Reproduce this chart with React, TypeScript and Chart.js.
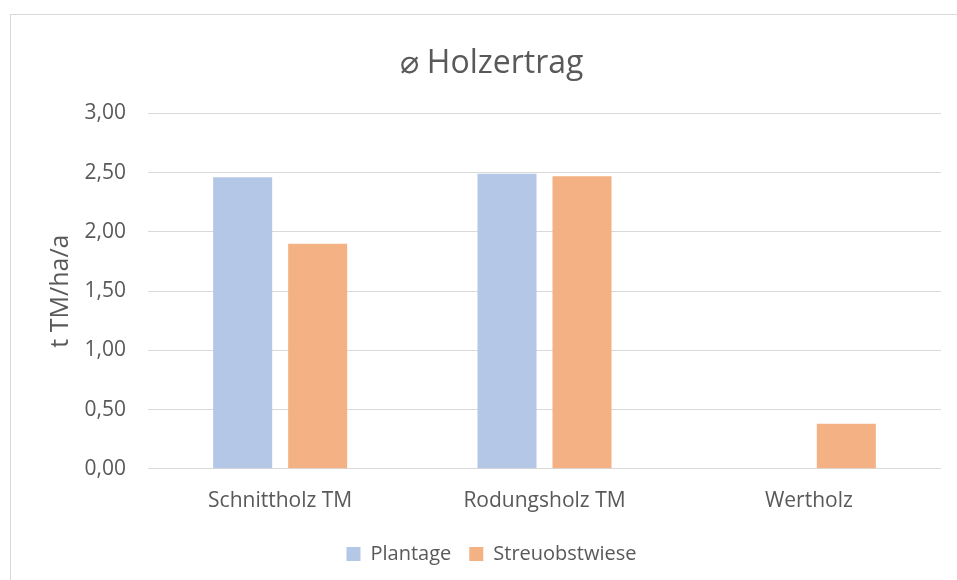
import React, { useEffect, useRef } from "react";
import { Chart, registerables } from "chart.js";

Chart.register(...registerables);

const categories = ["Schnittholz TM", "Rodungsholz TM", "Wertholz"];
const plantage = [2.46, 2.49, 0];
const streuobstwiese = [1.9, 2.47, 0.38];
const seriesNames = ["Plantage", "Streuobstwiese"];
const titleText = "⌀ Holzertrag";
const yTitle = "t TM/ha/a";

export default function App() {
  const ref = useRef<HTMLCanvasElement | null>(null);
  useEffect(() => {
    if (!ref.current) return;
    const font = "'Open Sans', 'Liberation Sans', sans-serif";
    const chart = new Chart(ref.current, {
      type: "bar",
      data: {
        labels: categories,
        datasets: [
          { label: seriesNames[0], data: plantage, backgroundColor: "#B4C7E7" },
          { label: seriesNames[1], data: streuobstwiese, backgroundColor: "#F4B183" },
        ],
      },
      options: {
        animation: false,
        responsive: false,
        maintainAspectRatio: false,
        datasets: { bar: { categoryPercentage: 0.5675, barPercentage: 0.787 } },
        layout: { padding: { left: 42, right: 16, top: 45, bottom: 6 } },
        plugins: {
          title: {
            display: true,
            text: titleText,
            color: "#595959",
            font: { family: font, size: 32, weight: "normal" },
            padding: { top: 0, bottom: 30 },
          },
          legend: {
            position: "bottom",
            labels: {
              color: "#595959",
              font: { family: font, size: 20 },
              boxWidth: 14,
              boxHeight: 14,
              padding: 18,
            },
          },
          tooltip: { enabled: false },
        },
        scales: {
          x: {
            grid: { display: false },
            border: { display: false },
            ticks: { color: "#595959", font: { family: font, size: 21 }, padding: 12 },
          },
          y: {
            min: 0,
            max: 3,
            afterFit: (scale: any) => {
              scale.width = 106;
            },
            ticks: {
              stepSize: 0.5,
              color: "#595959",
              font: { family: font, size: 21 },
              padding: 22,
              callback: (v: any) => Number(v).toFixed(2).replace(".", ","),
            },
            grid: { color: "#D9D9D9", lineWidth: 1, drawTicks: false },
            border: { display: false },
            title: {
              display: true,
              text: yTitle,
              color: "#595959",
              font: { family: font, size: 25 },
              padding: { top: 4, bottom: 0 },
            },
          },
        },
      },
    });
    return () => chart.destroy();
  }, []);
  return (
    <div style={{ position: "absolute", left: 0, top: 0, width: 957, height: 580, background: "#fff" }}>
      <div
        style={{
          position: "absolute",
          left: 10,
          top: 14,
          width: 960,
          height: 580,
          borderTop: "1px solid #D9D9D9",
          borderLeft: "1px solid #D9D9D9",
        }}
      />
      <canvas ref={ref} width={957} height={580} style={{ position: "absolute", left: 0, top: 0 }} />
    </div>
  );
}
